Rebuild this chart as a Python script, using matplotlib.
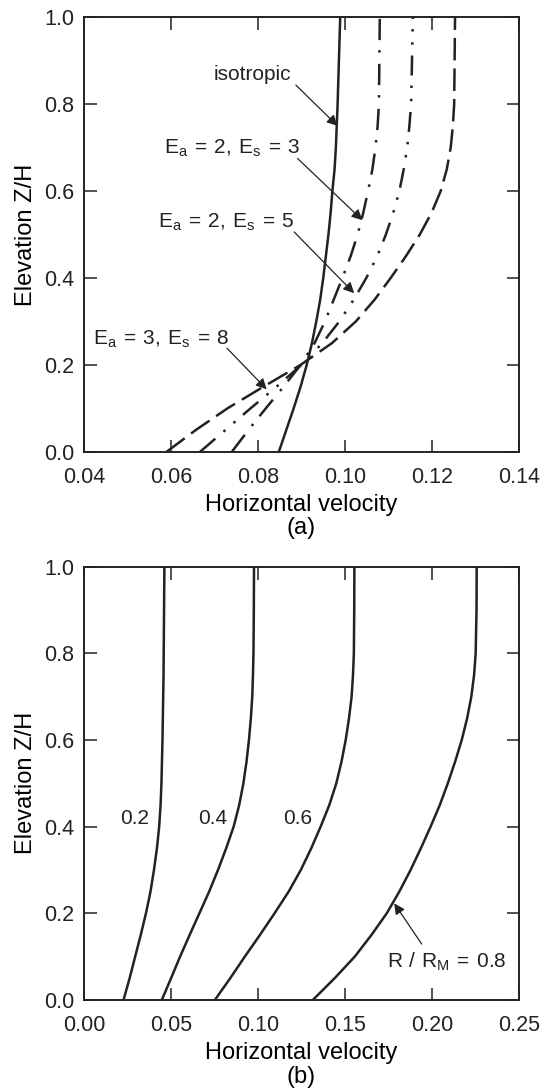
#!/usr/bin/env python3
"""Velocity profiles: anisotropy effect (a) and R/R_M effect (b)."""

import matplotlib

matplotlib.use("Agg")
import matplotlib.pyplot as plt

INK = "#222222"

# panel (a): elevation Z/H and horizontal velocity
Z_A = [0.0, 0.05, 0.1, 0.15, 0.2, 0.25, 0.3, 0.35, 0.4, 0.45, 0.5,
       0.55, 0.6, 0.65, 0.7, 0.75, 0.8, 0.9, 1.0]
ISOTROPIC = [0.0848, 0.0865, 0.0882, 0.0898, 0.0912, 0.0924, 0.0934, 0.0943,
             0.0950, 0.0956, 0.0962, 0.0967, 0.0971, 0.0976, 0.0979, 0.0981,
             0.0983, 0.0986, 0.0989]
EA2_ES3 = [0.0740, 0.0778, 0.0818, 0.0859, 0.0898, 0.0930, 0.0954, 0.0974,
           0.0994, 0.1013, 0.1029, 0.1042, 0.1053, 0.1063, 0.1070, 0.1075,
           0.1078, 0.1079, 0.1080]
EA2_ES5 = [0.0667, 0.0725, 0.0783, 0.0843, 0.0900, 0.0948, 0.0987, 0.1020,
           0.1049, 0.1074, 0.1094, 0.1111, 0.1125, 0.1135, 0.1143, 0.1148,
           0.1152, 0.1154, 0.1156]
EA3_ES8 = [0.0590, 0.0657, 0.0730, 0.0813, 0.0898, 0.0970, 0.1025, 0.1068,
           0.1105, 0.1140, 0.1172, 0.1199, 0.1220, 0.1234, 0.1243, 0.1248,
           0.1251, 0.1252, 0.1253]

# panel (b): one curve per R / R_M
Z_B = Z_A
R_RATIOS = ["0.2", "0.4", "0.6", "0.8"]
VEL_B = {
    "0.2": [0.0227, 0.0262, 0.0294, 0.0326, 0.0356, 0.0382, 0.0402, 0.0419,
            0.0432, 0.0440, 0.0445, 0.0448, 0.0451, 0.0453, 0.0455, 0.0457,
            0.0458, 0.0460, 0.0462],
    "0.4": [0.0447, 0.0500, 0.0552, 0.0607, 0.0663, 0.0719, 0.0770, 0.0817,
            0.0860, 0.0892, 0.0916, 0.0934, 0.0948, 0.0959, 0.0967, 0.0971,
            0.0974, 0.0976, 0.0977],
    "0.6": [0.0752, 0.0840, 0.0924, 0.1011, 0.1095, 0.1176, 0.1246, 0.1306,
            0.1360, 0.1410, 0.1450, 0.1480, 0.1504, 0.1523, 0.1538, 0.1546,
            0.1551, 0.1553, 0.1554],
    "0.8": [0.1315, 0.1440, 0.1556, 0.1652, 0.1740, 0.1812, 0.1877, 0.1936,
            0.1992, 0.2045, 0.2091, 0.2133, 0.2171, 0.2202, 0.2226, 0.2242,
            0.2251, 0.2256, 0.2257],
}

X_TICKS_A = [0.04, 0.06, 0.08, 0.10, 0.12, 0.14]
X_TICKS_B = [0.00, 0.05, 0.10, 0.15, 0.20, 0.25]
Y_TICKS = [0.0, 0.2, 0.4, 0.6, 0.8, 1.0]

plt.rcParams["font.family"] = ["Liberation Sans", "DejaVu Sans"]
plt.rcParams["mathtext.fontset"] = "custom"
plt.rcParams["mathtext.rm"] = "Liberation Sans"
plt.rcParams["text.color"] = INK

ARROW = dict(arrowstyle="-|>", color=INK, lw=0.9, mutation_scale=16,
             shrinkA=0, shrinkB=0)


def style_axis(axis, xticks, tag):
    axis.set_xlim(xticks[0], xticks[-1])
    axis.set_ylim(0, 1)
    axis.set_xticks(xticks, [f"{t:.2f}" for t in xticks])
    axis.set_yticks(Y_TICKS, [f"{t:.1f}" for t in Y_TICKS])
    axis.tick_params(direction="in", length=9, width=1.1, top=True,
                     right=True, labelsize=15.5, colors=INK)
    axis.tick_params(axis="x", pad=11)
    axis.tick_params(axis="y", pad=7)
    for spine in axis.spines.values():
        spine.set_linewidth(1.4)
        spine.set_color(INK)
    axis.set_xlabel(f"Horizontal velocity\n({tag})", fontsize=17,
                    labelpad=4, linespacing=1.1)
    axis.set_ylabel("Elevation Z/H", fontsize=17, labelpad=5)


def label(axis, text, xy, xytext, at):
    axis.annotate("", xy=xy, xytext=xytext, arrowprops=ARROW)
    axis.text(at[0], at[1], text, fontsize=15, ha="center", va="baseline")


def main():
    fig = plt.figure(figsize=(5.41, 10.88), dpi=100)
    ax_a = fig.add_axes([0.1553, 0.5848, 0.804, 0.3993])
    ax_b = fig.add_axes([0.1553, 0.0809, 0.804, 0.3983])

    lw = 1.8
    ax_a.plot(ISOTROPIC, Z_A, color=INK, lw=lw)
    ax_a.plot(EA2_ES3, Z_A, color=INK, lw=lw, ls=(0, (8.5, 4.5, 1, 4)))
    ax_a.plot(EA2_ES5, Z_A, color=INK, lw=lw,
              ls=(0, (8, 4.3, 1, 4.3, 1, 4)))
    ax_a.plot(EA3_ES8, Z_A, color=INK, lw=lw, ls=(0, (9, 3.2)))
    style_axis(ax_a, X_TICKS_A, "a")

    label(ax_a, "isotropic", (0.0983, 0.750), (0.0887, 0.844),
          (0.0786, 0.855))
    label(ax_a, r"$\mathregular{E_a\,=\,2,\,E_s\,=\,3}$", (0.1040, 0.533),
          (0.0891, 0.675), (0.0740, 0.685))
    label(ax_a, r"$\mathregular{E_a\,=\,2,\,E_s\,=\,5}$", (0.1021, 0.365),
          (0.0883, 0.506), (0.0728, 0.516))
    label(ax_a, r"$\mathregular{E_a\,=\,3,\,E_s\,=\,8}$", (0.0820, 0.1436),
          (0.0729, 0.238), (0.0577, 0.2456))

    for ratio in R_RATIOS:
        ax_b.plot(VEL_B[ratio], Z_B, color=INK, lw=lw)
    style_axis(ax_b, X_TICKS_B, "b")
    for ratio, x in zip(R_RATIOS[:3], [0.0289, 0.0739, 0.1229]):
        ax_b.text(x, 0.4054, ratio, fontsize=15, ha="center", va="baseline")
    label(ax_b, r"$\mathregular{R\ /\ R_M\,=\,0.8}$", (0.1783, 0.223),
          (0.1941, 0.129), (0.2085, 0.0746))

    fig.savefig("out.png", dpi=100)
    plt.close(fig)


if __name__ == "__main__":
    main()
